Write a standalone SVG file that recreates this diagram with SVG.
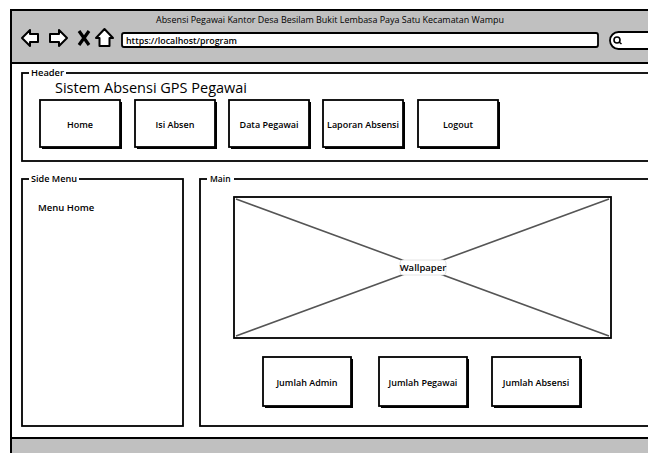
<svg xmlns="http://www.w3.org/2000/svg" width="648" height="453" viewBox="0 0 648 453">
<style>
text{font-family:"Open Sans","Liberation Sans",Arial,sans-serif;fill:#000}
.frame{fill:#fff;stroke:#000;stroke-width:2}
.gray{fill:#c0c0c0;stroke:#000;stroke-width:2}
.box{fill:#fff;stroke:#000;stroke-width:1.8}
.shadow{fill:#000}
.lbl{font-size:8.5px;font-weight:600}
.btn{font-size:9px;font-weight:600;text-anchor:middle}
.icon{fill:#fff;stroke:#000;stroke-width:2;stroke-linejoin:round}
</style>
<rect width="648" height="453" fill="#fff"/>
<g id="browser">
<rect class="frame" x="11" y="10" width="660" height="460"/>
<rect class="gray" x="11" y="10" width="660" height="53"/>
<rect class="gray" x="11" y="438" width="660" height="30"/>
<text x="330" y="23" font-size="9" font-weight="500" text-anchor="middle" textLength="348" lengthAdjust="spacingAndGlyphs">Absensi Pegawai Kantor Desa Besilam Bukit Lembasa Paya Satu Kecamatan Wampu</text>
<polygon class="icon" points="22,38 30,30 30,34 38,34 38,42 30,42 30,46"/>
<polygon class="icon" points="67,38 59,30 59,34 50,34 50,42 59,42 59,46"/>
<path d="M79,31 L89,45 M89,31 L79,45" stroke="#000" stroke-width="3.2" fill="none"/>
<polygon class="icon" points="104.5,29 113,38 109.5,38 109.5,46 99.5,46 99.5,38 96,38"/>
<rect x="122" y="33" width="476" height="14" rx="2" fill="#fff" stroke="#000" stroke-width="1.8"/>
<text x="126" y="43.5" font-size="9.5" font-weight="600" textLength="111" lengthAdjust="spacingAndGlyphs">https://localhost/program</text>
<rect x="610" y="32" width="60" height="17" rx="8.5" fill="#fff" stroke="#000" stroke-width="1.8"/>
<circle cx="617" cy="40" r="3" fill="none" stroke="#000" stroke-width="1.6"/>
<path d="M619,42 L621.5,44" stroke="#000" stroke-width="1.6"/>
</g>
<g id="header">
<rect class="box" x="22" y="73" width="640" height="88"/>
<rect x="29" y="68" width="37" height="9" fill="#fff"/>
<text class="lbl" x="31" y="76" textLength="33" lengthAdjust="spacingAndGlyphs">Header</text>
<text x="55" y="93" font-size="15" textLength="192" lengthAdjust="spacingAndGlyphs">Sistem Absensi GPS Pegawai</text>
</g>
<g id="btn-home">
<rect class="shadow" x="42" y="102" width="80" height="47"/>
<rect class="box" x="40" y="100" width="80" height="47"/>
<text class="btn" x="80" y="128">Home</text>
</g>
<g id="btn-isi-absen">
<rect class="shadow" x="137" y="102" width="80" height="47"/>
<rect class="box" x="135" y="100" width="80" height="47"/>
<text class="btn" x="175" y="128">Isi Absen</text>
</g>
<g id="btn-data-pegawai">
<rect class="shadow" x="231" y="102" width="80" height="47"/>
<rect class="box" x="229" y="100" width="80" height="47"/>
<text class="btn" x="269" y="128">Data Pegawai</text>
</g>
<g id="btn-laporan">
<rect class="shadow" x="325" y="102" width="80" height="47"/>
<rect class="box" x="323" y="100" width="80" height="47"/>
<text class="btn" x="363" y="128" textLength="72" lengthAdjust="spacingAndGlyphs">Laporan Absensi</text>
</g>
<g id="btn-logout">
<rect class="shadow" x="420" y="102" width="80" height="47"/>
<rect class="box" x="418" y="100" width="80" height="47"/>
<text class="btn" x="458" y="128">Logout</text>
</g>
<g id="side-menu">
<rect class="box" x="22" y="179" width="161" height="247"/>
<rect x="29" y="174" width="50" height="9" fill="#fff"/>
<text class="lbl" x="31" y="182" textLength="46" lengthAdjust="spacingAndGlyphs">Side Menu</text>
<text x="38" y="211" font-size="9.5" font-weight="600">Menu Home</text>
</g>
<g id="main">
<rect class="box" x="200" y="179" width="470" height="247"/>
<rect x="207" y="174" width="27" height="9" fill="#fff"/>
<text class="lbl" x="210" y="182">Main</text>
</g>
<g id="wallpaper">
<rect class="box" x="234" y="197" width="377" height="141"/>
<path d="M236,199 L609,336 M609,199 L236,336" stroke="#555" stroke-width="1.6" fill="none"/>
<rect x="400" y="260" width="46" height="15" rx="3" fill="#fff" stroke="#ddd" stroke-width="0.8"/>
<text x="423" y="271" font-size="9.5" font-weight="600" text-anchor="middle">Wallpaper</text>
</g>
<g id="jumlah-admin">
<rect class="shadow" x="265" y="359" width="88" height="49"/>
<rect class="box" x="263" y="357" width="88" height="49"/>
<text class="btn" x="307" y="386">Jumlah Admin</text>
</g>
<g id="jumlah-pegawai">
<rect class="shadow" x="381" y="359" width="88" height="49"/>
<rect class="box" x="379" y="357" width="88" height="49"/>
<text class="btn" x="423" y="386">Jumlah Pegawai</text>
</g>
<g id="jumlah-absensi">
<rect class="shadow" x="494" y="359" width="88" height="49"/>
<rect class="box" x="492" y="357" width="88" height="49"/>
<text class="btn" x="536" y="386">Jumlah Absensi</text>
</g>
<g id="connectors"></g>
</svg>
